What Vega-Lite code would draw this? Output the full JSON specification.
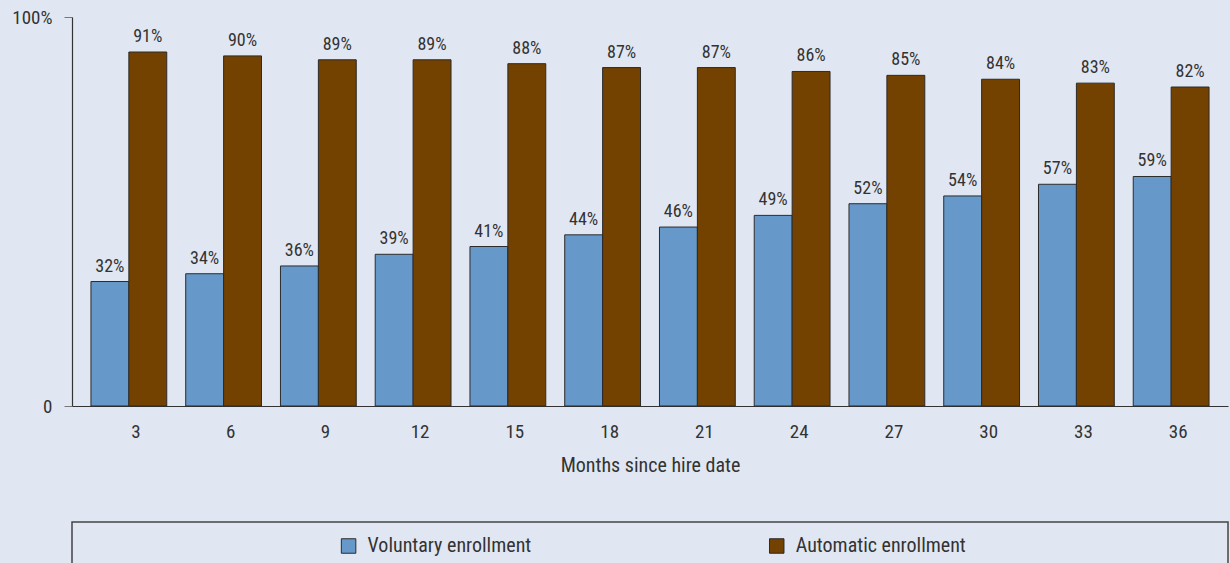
{
  "$schema": "https://vega.github.io/schema/vega-lite/v6.json",
  "background": "#E1E7F2",
  "padding": {"left": 11, "top": 8, "right": 2, "bottom": 0},
  "config": {
    "font": "Liberation Sans Narrow, Roboto Condensed, DejaVu Sans Condensed, sans-serif",
    "view": {"stroke": null},
    "concat": {"spacing": 46}
  },
  "data": {
    "values": [
      {"month": 3, "series": "Voluntary enrollment", "value": 0.32},
      {"month": 6, "series": "Voluntary enrollment", "value": 0.34},
      {"month": 9, "series": "Voluntary enrollment", "value": 0.36},
      {"month": 12, "series": "Voluntary enrollment", "value": 0.39},
      {"month": 15, "series": "Voluntary enrollment", "value": 0.41},
      {"month": 18, "series": "Voluntary enrollment", "value": 0.44},
      {"month": 21, "series": "Voluntary enrollment", "value": 0.46},
      {"month": 24, "series": "Voluntary enrollment", "value": 0.49},
      {"month": 27, "series": "Voluntary enrollment", "value": 0.52},
      {"month": 30, "series": "Voluntary enrollment", "value": 0.54},
      {"month": 33, "series": "Voluntary enrollment", "value": 0.57},
      {"month": 36, "series": "Voluntary enrollment", "value": 0.59},
      {"month": 3, "series": "Automatic enrollment", "value": 0.91},
      {"month": 6, "series": "Automatic enrollment", "value": 0.90},
      {"month": 9, "series": "Automatic enrollment", "value": 0.89},
      {"month": 12, "series": "Automatic enrollment", "value": 0.89},
      {"month": 15, "series": "Automatic enrollment", "value": 0.88},
      {"month": 18, "series": "Automatic enrollment", "value": 0.87},
      {"month": 21, "series": "Automatic enrollment", "value": 0.87},
      {"month": 24, "series": "Automatic enrollment", "value": 0.86},
      {"month": 27, "series": "Automatic enrollment", "value": 0.85},
      {"month": 30, "series": "Automatic enrollment", "value": 0.84},
      {"month": 33, "series": "Automatic enrollment", "value": 0.83},
      {"month": 36, "series": "Automatic enrollment", "value": 0.82}
    ]
  },
  "vconcat": [
    {
      "width": 1156,
      "height": 389,
      "encoding": {
        "x": {
          "field": "month",
          "type": "ordinal",
          "scale": {"paddingInner": 0.2, "paddingOuter": 0.2},
          "axis": {
            "title": "Months since hire date",
            "labelAngle": 0,
            "ticks": false,
            "labelOffset": 7,
            "labelPadding": 16,
            "labelFontSize": 19,
            "labelColor": "#333333",
            "titleFontSize": 20,
            "titleFontWeight": "normal",
            "titleColor": "#333333",
            "titlePadding": 14,
            "domainColor": "#333333",
            "domainWidth": 1.2
          }
        },
        "xOffset": {"field": "series", "sort": ["Voluntary enrollment", "Automatic enrollment"]},
        "y": {
          "field": "value",
          "type": "quantitative",
          "scale": {"domain": [0, 1]},
          "axis": {
            "title": null,
            "values": [0, 1],
            "labelExpr": "datum.value == 0 ? '0' : '100%'",
            "grid": false,
            "tickSize": 8,
            "tickColor": "#777777",
            "labelPadding": 12,
            "labelFontSize": 19,
            "labelColor": "#333333",
            "domainColor": "#333333",
            "domainWidth": 1.2
          }
        },
        "color": {
          "field": "series",
          "type": "nominal",
          "scale": {"domain": ["Voluntary enrollment", "Automatic enrollment"], "range": ["#6699CA", "#734100"]},
          "legend": null
        }
      },
      "layer": [
        {"mark": {"type": "bar", "stroke": "#2b2b2b", "strokeWidth": 1}},
        {
          "mark": {"type": "text", "baseline": "bottom", "dy": -6, "fontSize": 18, "color": "#333333"},
          "encoding": {
            "text": {"field": "value", "type": "quantitative", "format": ".0%"},
            "color": {"value": "#333333"}
          }
        }
      ]
    },
    {
      "width": 1156,
      "height": 48,
      "view": {"stroke": "#444444", "strokeWidth": 1.5},
      "data": {"values": [{"series": "Voluntary enrollment"}, {"series": "Automatic enrollment"}]},
      "encoding": {
        "x": {
          "field": "series",
          "type": "nominal",
          "sort": ["Voluntary enrollment", "Automatic enrollment"],
          "scale": {"type": "point", "padding": 0.85, "align": 0.38},
          "axis": null
        }
      },
      "layer": [
        {
          "mark": {"type": "point", "shape": "square", "filled": true, "size": 210, "stroke": "#2b2b2b", "strokeWidth": 1, "opacity": 1},
          "encoding": {
            "color": {"field": "series", "type": "nominal", "legend": null}
          }
        },
        {
          "mark": {"type": "text", "align": "left", "baseline": "middle", "dx": 19, "fontSize": 20, "color": "#333333"},
          "encoding": {"text": {"field": "series"}}
        }
      ]
    }
  ]
}
